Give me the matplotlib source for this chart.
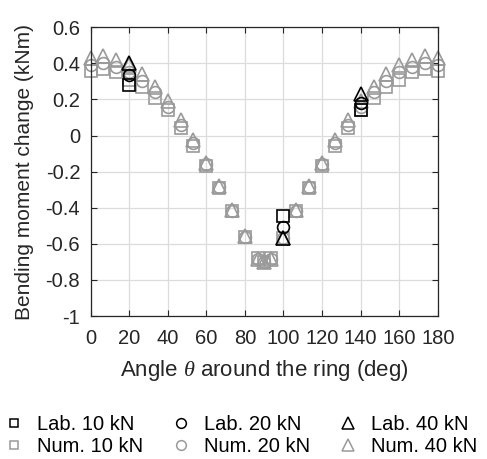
import matplotlib
matplotlib.use("Agg")
import matplotlib.pyplot as plt
from matplotlib.lines import Line2D

plt.rcParams['font.family'] = ['Liberation Sans', 'DejaVu Sans']
plt.rcParams['mathtext.fontset'] = 'custom'
plt.rcParams['mathtext.it'] = 'Liberation Serif:italic'

# numerical results (angle in deg, moment change in kNm)
num_angle = [0, 6.67, 13.33, 20, 26.67, 33.33, 40, 46.67, 53.33, 60, 66.67, 73.33, 80,
             86.67, 90, 93.33, 100, 106.67, 113.33, 120, 126.67, 133.33, 140, 146.67,
             153.33, 160, 166.67, 173.33, 180]
num_10kN = [0.36, 0.37, 0.35, 0.31, 0.27, 0.21, 0.14, 0.04, -0.06, -0.17, -0.29, -0.42, -0.56,
            -0.68, -0.70, -0.68, -0.57, -0.42, -0.29, -0.17, -0.06, 0.04, 0.14, 0.21,
            0.27, 0.31, 0.35, 0.37, 0.36]
num_20kN = [0.39, 0.40, 0.38, 0.35, 0.30, 0.24, 0.16, 0.06, -0.04, -0.16, -0.285, -0.42, -0.56,
            -0.685, -0.70, -0.685, -0.57, -0.42, -0.285, -0.16, -0.04, 0.06, 0.16, 0.24,
            0.30, 0.35, 0.38, 0.40, 0.39]
num_40kN = [0.43, 0.44, 0.42, 0.39, 0.34, 0.27, 0.19, 0.085, -0.025, -0.15, -0.28, -0.415, -0.555,
            -0.685, -0.70, -0.685, -0.565, -0.415, -0.28, -0.15, -0.025, 0.085, 0.19, 0.27,
            0.34, 0.39, 0.42, 0.44, 0.43]

# laboratory measurements
lab_angle = [20, 100, 140]
lab_10kN = [0.28, -0.447, 0.14]
lab_20kN = [0.335, -0.506, 0.178]
lab_40kN = [0.40, -0.57, 0.23]

grey = '#9a9a9a'
fig = plt.figure(figsize=(4.87, 4.59), dpi=100)
ax = fig.add_axes([0.186, 0.3115, 0.713, 0.629])

mk = dict(linestyle='none', markerfacecolor='none', clip_on=False)
ax.plot(num_angle, num_10kN, marker='s', ms=8, mec=grey, mew=1.2, **mk)
ax.plot(num_angle, num_20kN, marker='o', ms=8.5, mec=grey, mew=1.2, **mk)
ax.plot(num_angle, num_40kN, marker='^', ms=10, mec=grey, mew=1.2, **mk)
ax.plot(lab_angle, lab_10kN, marker='s', ms=8, mec='k', mew=1.2, **mk)
ax.plot(lab_angle, lab_20kN, marker='o', ms=8.5, mec='k', mew=1.2, **mk)
ax.plot(lab_angle, lab_40kN, marker='^', ms=10, mec='k', mew=1.2, **mk)

ax.set_xlim(0, 180)
ax.set_ylim(-1, 0.6)
ax.set_xticks(range(0, 181, 20))
ax.set_yticks([-1, -0.8, -0.6, -0.4, -0.2, 0, 0.2, 0.4, 0.6])
ax.set_yticklabels(['-1', '-0.8', '-0.6', '-0.4', '-0.2', '0', '0.2', '0.4', '0.6'])
ax.grid(True, color='#dcdcdc', linewidth=0.9)
ax.set_axisbelow(True)
for s in ax.spines.values():
    s.set_color('#262626')
    s.set_linewidth(0.9)
ax.tick_params(direction='in', top=True, right=True, length=4, width=0.8,
               colors='#262626', labelsize=14.5, labelcolor='#262626')
ax.tick_params(axis='x', pad=9)
ax.tick_params(axis='y', pad=7.5)

ax.set_xlabel(r'Angle $\theta$ around the ring (deg)', fontsize=16, color='#262626', labelpad=7.5)
ax.set_ylabel('Bending moment change (kNm)', fontsize=15, color='#262626', labelpad=8)

handles = [
    Line2D([], [], marker='s', ms=6, mec='k', mfc='none', ls='none', mew=1.1),
    Line2D([], [], marker='s', ms=6, mec=grey, mfc='none', ls='none', mew=1.1),
    Line2D([], [], marker='o', ms=7, mec='k', mfc='none', ls='none', mew=1.1),
    Line2D([], [], marker='o', ms=7, mec=grey, mfc='none', ls='none', mew=1.1),
    Line2D([], [], marker='^', ms=8, mec='k', mfc='none', ls='none', mew=1.1),
    Line2D([], [], marker='^', ms=8, mec=grey, mfc='none', ls='none', mew=1.1),
]
labels = ['Lab. 10 kN', 'Num. 10 kN', 'Lab. 20 kN', 'Num. 20 kN', 'Lab. 40 kN', 'Num. 40 kN']
fig.legend(handles, labels, ncol=3, loc='center left', bbox_to_anchor=(0.0074, 0.052),
           frameon=False, fontsize=14.5, handlelength=1.0, handletextpad=0.65,
           columnspacing=1.38, labelspacing=0.15, borderpad=0, borderaxespad=0)

fig.savefig('out.png', dpi=100)
